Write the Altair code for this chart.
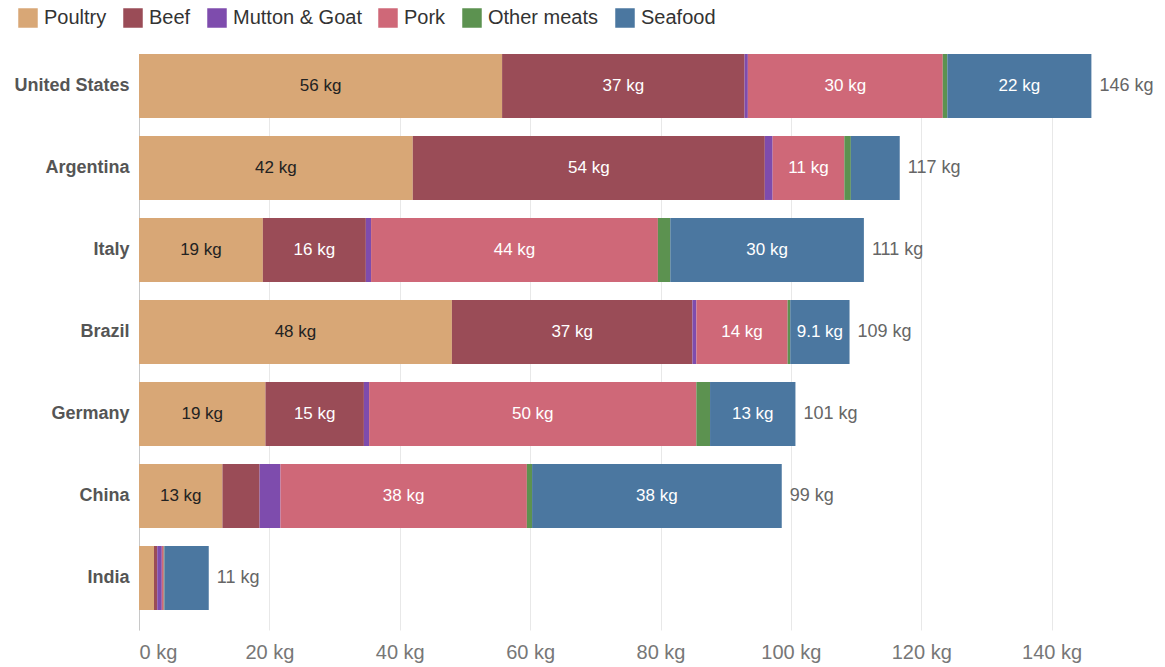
import altair as alt
import pandas as pd

countries = ["United States", "Argentina", "Italy", "Brazil", "Germany", "China", "India"]
categories = ["Poultry", "Beef", "Mutton & Goat", "Pork", "Other meats", "Seafood"]
colors = ["#D8A776", "#9A4C57", "#7E4CAD", "#CF6878", "#5C9250", "#4B77A0"]
label_colors = ["#222222", "#FFFFFF", "#FFFFFF", "#FFFFFF", "#FFFFFF", "#FFFFFF"]

poultry = [55.7, 42.0, 19.0, 48.0, 19.4, 12.8, 2.3]
beef = [37.2, 54.0, 15.8, 36.9, 15.1, 5.7, 0.5]
mutton = [0.5, 1.2, 0.8, 0.6, 0.8, 3.2, 0.7]
pork = [29.9, 11.0, 44.0, 14.0, 50.2, 37.8, 0.3]
other = [0.7, 1.0, 1.9, 0.4, 2.1, 0.8, 0.1]
seafood = [22.1, 7.5, 29.7, 9.1, 13.1, 38.3, 6.8]

x_ticks = [0, 20, 40, 60, 80, 100, 120, 140]

series = [poultry, beef, mutton, pork, other, seafood]

rows = []
totals = []
for ci, c in enumerate(countries):
    start = 0.0
    for k, cat in enumerate(categories):
        v = series[k][ci]
        end = start + v
        if v >= 9:
            lab = f"{round(v)} kg" if v >= 10 else f"{v:.1f} kg"
        else:
            lab = ""
        rows.append({"country": c, "category": cat, "order": k, "value": v,
                     "start": start, "end": end, "mid": (start + end) / 2,
                     "label": lab, "lcolor": label_colors[k]})
        start = end
    totals.append({"country": c, "total": start, "tlabel": f"{round(start)} kg"})

df = pd.DataFrame(rows)
tdf = pd.DataFrame(totals)

FONT = "Liberation Sans"

xscale = alt.Scale(domain=[0, 146.5], nice=False)
yscale = alt.Scale(paddingInner=0.22, paddingOuter=0.122, align=0)

xaxis = alt.Axis(title=None, values=x_ticks, labelExpr="datum.value + ' kg'",
                 ticks=False, domain=False, labelFontSize=20,
                 labelColor="#777777", labelPadding=12, gridColor="#e8e8e8",
                 labelFlush=True, labelFont=FONT)
yaxis = alt.Axis(title=None, labelFontWeight="bold", labelFontSize=18,
                 labelColor="#555555", labelPadding=10, ticks=False,
                 domain=True, domainColor="#c8c8c8", labelFont=FONT)

bars = alt.Chart(df).mark_bar().encode(
    x=alt.X("start:Q", scale=xscale, axis=xaxis),
    x2="end:Q",
    y=alt.Y("country:N", sort=countries, scale=yscale, axis=yaxis),
    color=alt.Color("category:N", sort=categories,
                    scale=alt.Scale(domain=categories, range=colors),
                    legend=alt.Legend(title=None, orient="none", direction="horizontal",
                                      legendX=-121, legendY=-46, symbolType="square",
                                      symbolSize=380, symbolStrokeWidth=0,
                                      symbolOpacity=1, labelFontSize=20,
                                      labelColor="#333333", columnPadding=16,
                                      labelOffset=6, labelFont=FONT)),
    order=alt.Order("order:Q"),
)

seg_labels = alt.Chart(df).mark_text(fontSize=17, font=FONT).encode(
    x=alt.X("mid:Q", scale=xscale, axis=xaxis),
    y=alt.Y("country:N", sort=countries, scale=yscale, axis=yaxis),
    text="label:N",
    color=alt.Color("lcolor:N", scale=None),
)

tot_labels = alt.Chart(tdf).mark_text(align="left", dx=8, fontSize=18, color="#666666",
                                      font=FONT).encode(
    x=alt.X("total:Q", scale=xscale, axis=xaxis),
    y=alt.Y("country:N", sort=countries, scale=yscale, axis=yaxis),
    text="tlabel:N",
)

chart = alt.layer(bars, seg_labels, tot_labels).properties(
    width=955, height=576,
    background="white",
    autosize=alt.AutoSizeParams(type="none"),
    padding={"left": 139, "top": 54, "right": 71, "bottom": 37},
).configure_view(stroke=None)

chart.save("out.html", embed_options={"renderer": "svg", "actions": False})
